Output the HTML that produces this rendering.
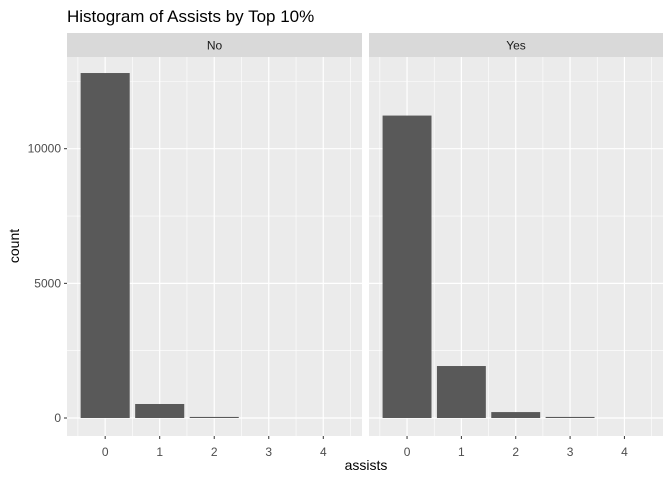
<!DOCTYPE html>
<html><head><meta charset="utf-8"><style>
body{margin:0;background:#fff;}
svg text{font-family:"Liberation Sans",Arial,sans-serif;}
</style></head><body>
<svg id="c" width="672" height="480" xmlns="http://www.w3.org/2000/svg">
<text x="67" y="22" font-size="17" fill="#000">Histogram of Assists by Top 10%</text>
<text x="366" y="470" font-size="14" text-anchor="middle" fill="#000">assists</text>
<text transform="translate(19,246) rotate(-90)" font-size="14" text-anchor="middle" fill="#000">count</text>
</svg>
<script>
const facets = ["No", "Yes"];
const categories = [0, 1, 2, 3, 4];
const countsNo = [12810, 520, 40, 0, 0];
const countsYes = [11230, 1930, 220, 40, 0];
const yTicks = [0, 5000, 10000];
const yMinor = [2500, 7500, 12500];
const series = [countsNo, countsYes];

const svgEl = document.getElementById('c');
const NS = 'http://www.w3.org/2000/svg';
const panels = [{x0: 67, x1: 362}, {x0: 369, x1: 663}];
const panelTop = 57, panelBottom = 436;
const xMin = -0.70, xMax = 4.71;
const yScale = v => 418 - v * 0.026930;
function mk(tag, attrs) {
  const e = document.createElementNS(NS, tag);
  for (const k in attrs) e.setAttribute(k, attrs[k]);
  svgEl.appendChild(e);
  return e;
}
panels.forEach((p, pi) => {
  const xs = v => p.x0 + (v - xMin) / (xMax - xMin) * (p.x1 - p.x0);
  const strip = mk('rect', {x: p.x0, y: 33, width: p.x1 - p.x0, height: 24, fill: '#d9d9d9'});
  
  
  const st = mk('text', {x: (p.x0 + p.x1) / 2, y: 49.5, 'font-size': 12, 'text-anchor': 'middle', fill: '#1a1a1a'});
  st.textContent = facets[pi];
  
  
  const bg = mk('rect', {x: p.x0, y: panelTop, width: p.x1 - p.x0, height: panelBottom - panelTop, fill: '#ebebeb'});
  
  
  yMinor.forEach(v => mk('line', {x1: p.x0, x2: p.x1, y1: yScale(v), y2: yScale(v), stroke: '#fff', 'stroke-width': 0.6}));
  yTicks.forEach(v => mk('line', {x1: p.x0, x2: p.x1, y1: yScale(v), y2: yScale(v), stroke: '#fff', 'stroke-width': 1.2}));
  categories.forEach(c => {
    mk('line', {x1: xs(c - 0.5), x2: xs(c - 0.5), y1: panelTop, y2: panelBottom, stroke: '#fff', 'stroke-width': 0.6});
    mk('line', {x1: xs(c), x2: xs(c), y1: panelTop, y2: panelBottom, stroke: '#fff', 'stroke-width': 1.2});
  });
  mk('line', {x1: xs(4.5), x2: xs(4.5), y1: panelTop, y2: panelBottom, stroke: '#fff', 'stroke-width': 0.6});
  categories.forEach((c, i) => {
    const v = series[pi][i];
    const b = mk('rect', {x: xs(c - 0.45), y: yScale(v), width: xs(c + 0.45) - xs(c - 0.45), height: yScale(0) - yScale(v), fill: '#595959'});
    
    
    mk('line', {x1: xs(c), x2: xs(c), y1: panelBottom, y2: panelBottom + 3, stroke: '#333', 'stroke-width': 1});
    const t = mk('text', {x: xs(c), y: 456, 'font-size': 12, 'text-anchor': 'middle', fill: '#4d4d4d'});
    t.textContent = c;
    
    
  });
});
yTicks.forEach(v => {
  mk('line', {x1: 64, x2: 67, y1: yScale(v), y2: yScale(v), stroke: '#333', 'stroke-width': 1});
  const t = mk('text', {x: 61, y: yScale(v) + 4, 'font-size': 12, 'text-anchor': 'end', fill: '#4d4d4d'});
  t.textContent = v;
  
  
});
</script>
</body></html>
